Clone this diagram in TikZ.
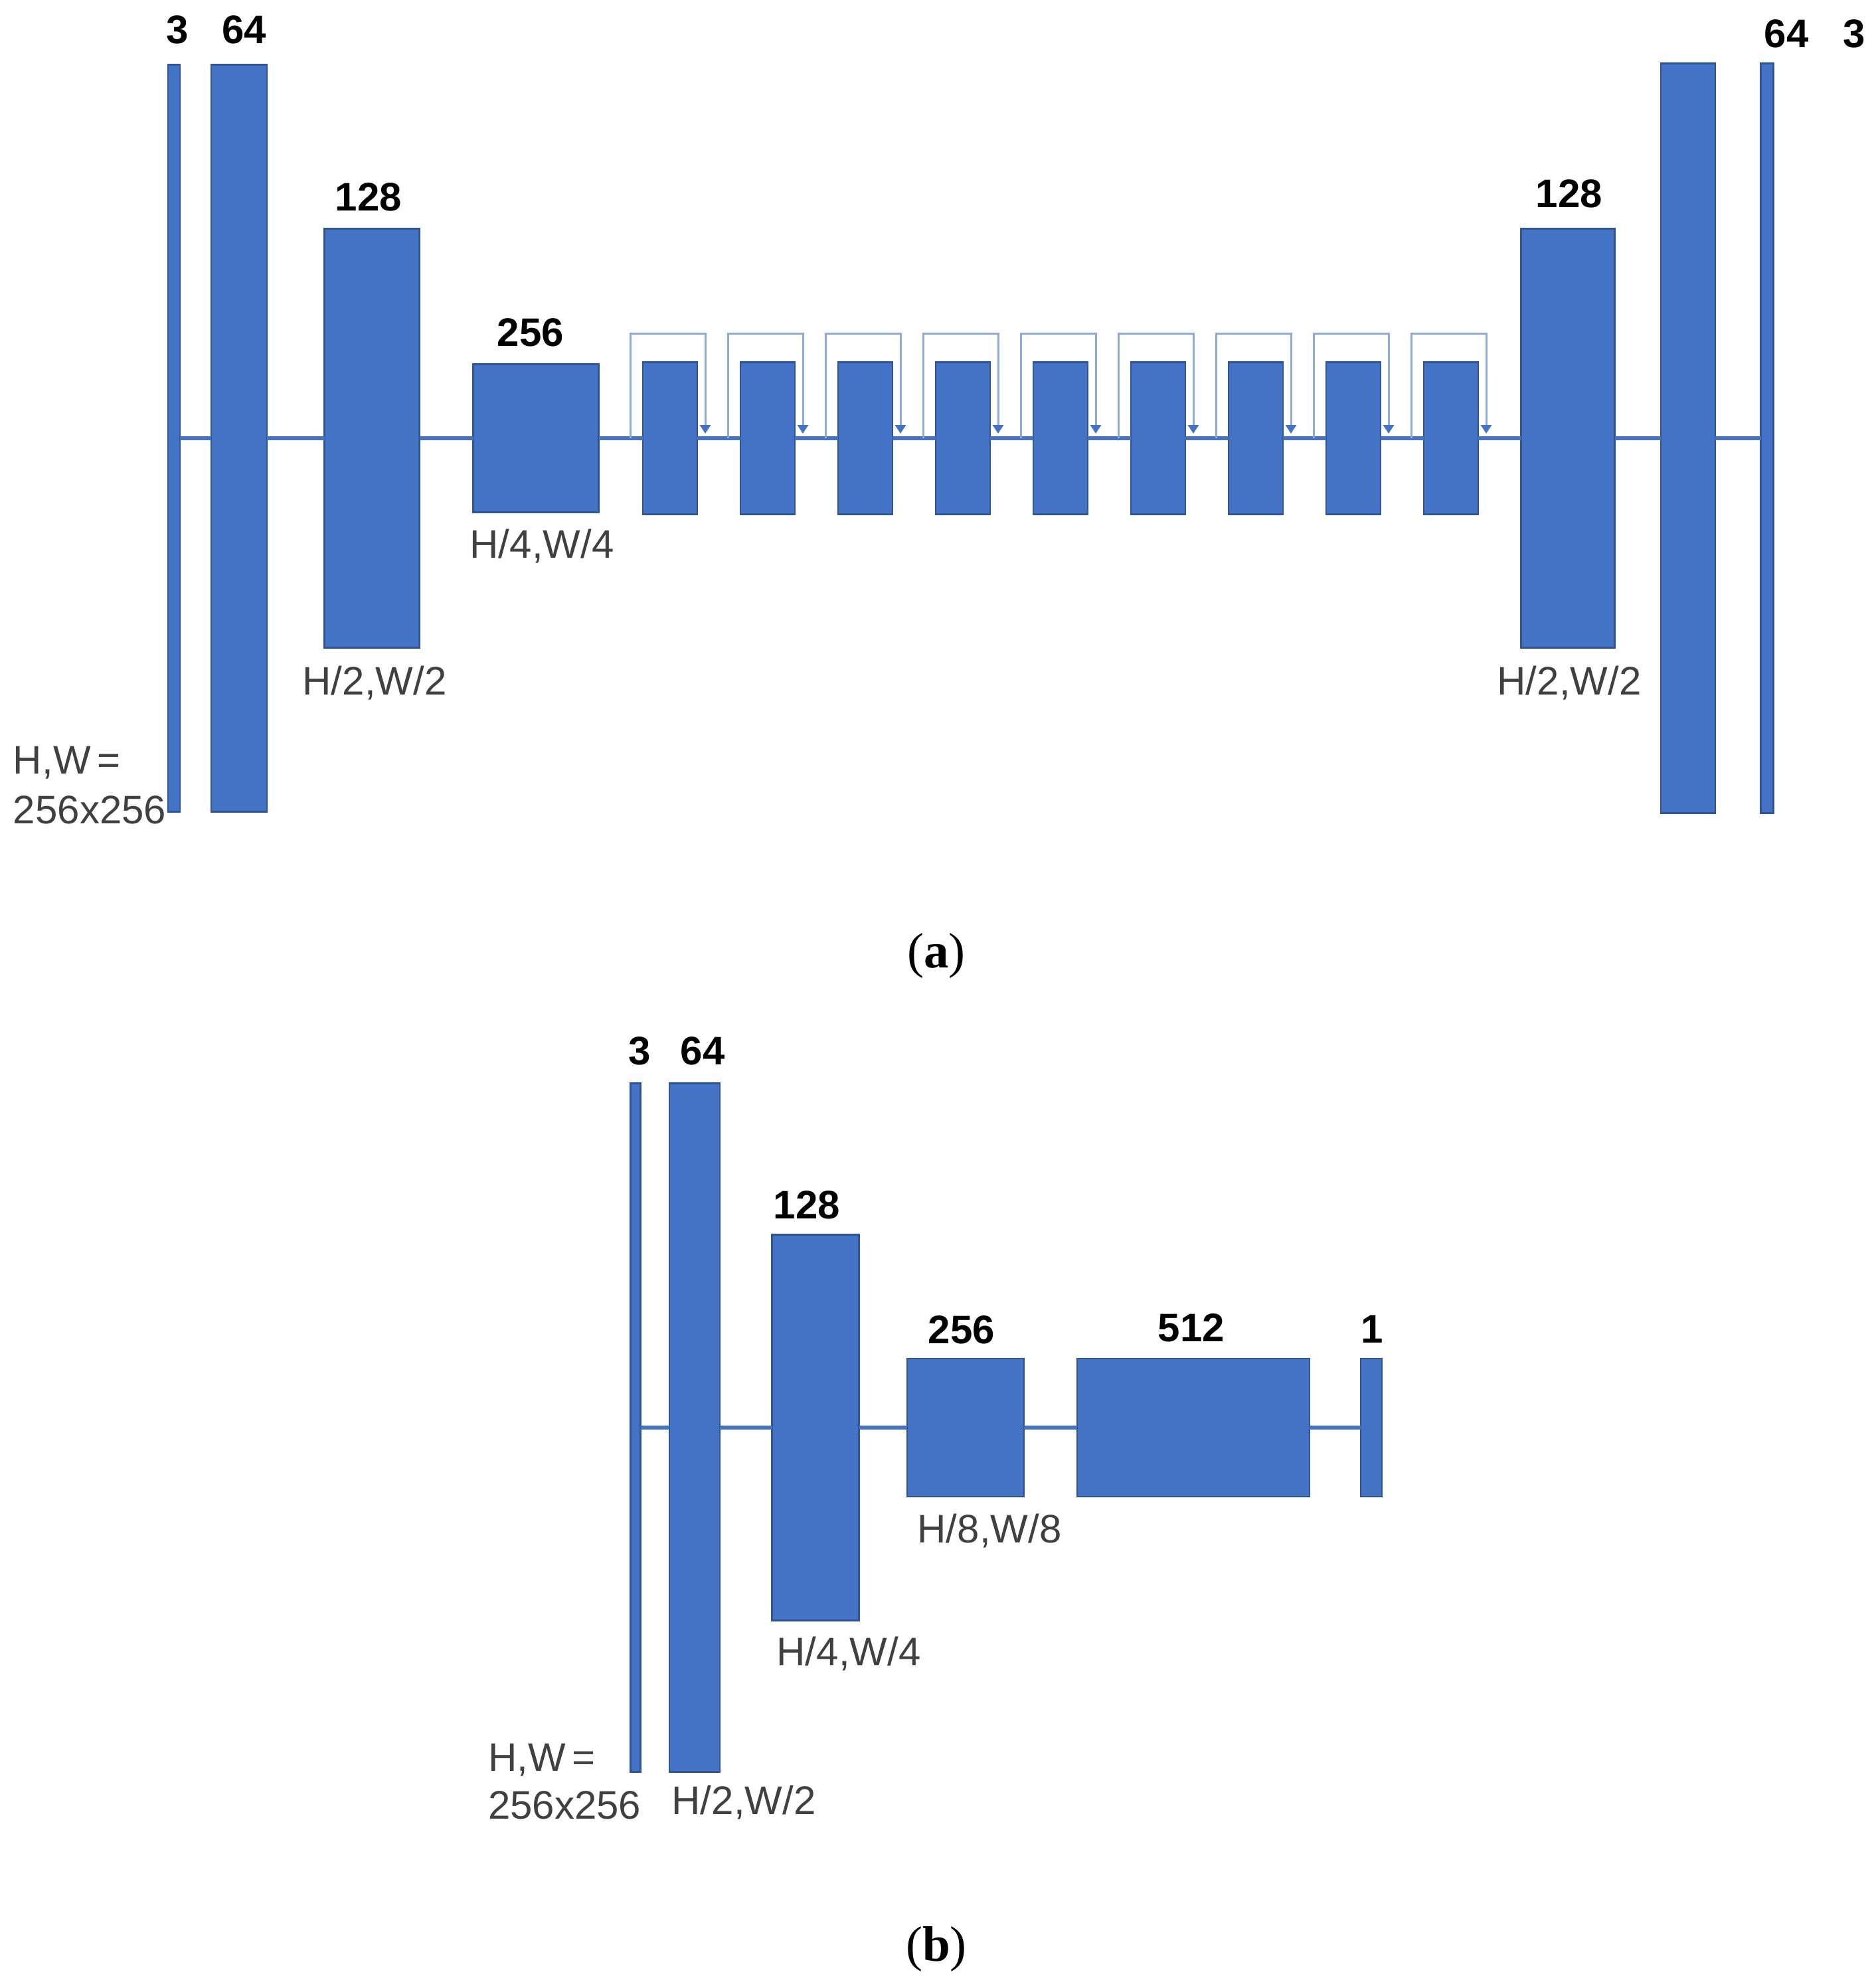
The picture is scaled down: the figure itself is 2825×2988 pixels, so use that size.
\documentclass[tikz,border=0pt]{standalone}
\usepackage{fontspec}
\setmainfont{Liberation Sans}
\newfontfamily\capfont{Liberation Serif}
\usetikzlibrary{arrows.meta,calc}
\definecolor{barblue}{HTML}{4472C4}
\definecolor{barline}{HTML}{2F5597}
\definecolor{skipblue}{HTML}{8FAADC}
\definecolor{dimgray}{HTML}{404040}
\begin{document}
\begin{tikzpicture}[x=0.2pt,y=-0.2pt,
  bar/.style 2 args={draw=barline, fill=barblue, line width=0.5pt, inner sep=0pt, outer sep=0pt,
    minimum width=#1*0.2pt, minimum height=#2*0.2pt},
  mainline/.style={draw=barblue, line width=1.1pt},
  skipline/.style={draw=skipblue, line width=0.6pt, -{Triangle[length=2.6pt,width=3.2pt,fill=barblue,color=barblue]}},
  num/.style={font=\fontsize{12}{14}\selectfont\bfseries, text=black, inner sep=0pt},
  dim/.style={font=\fontsize{12}{14}\selectfont, text=dimgray, inner sep=0pt},
  captext/.style={font=\fontsize{15}{18}\selectfont\capfont, inner sep=0pt}]
\useasboundingbox (0,0) rectangle (2825,2988);
% ---------------- (a) ----------------
\node[bar={18}{1125}] (A3L) at (262,660) {};
\node[bar={84}{1125}] (A64L) at (360,660) {};
\node[bar={143}{631}] (A128L) at (560,660) {};
\node[bar={189}{223}] (A256) at (807,660) {};
\foreach \i in {1,...,9}{
  \node[bar={82}{229}] (S\i) at ({1009+147*(\i-1)},660) {};
}
\node[bar={141}{631}] (A128R) at (2361,660) {};
\node[bar={82}{1129}] (A64R) at (2542,660) {};
\node[bar={19}{1129}] (A3R) at (2661,660) {};
\draw[mainline] (A3L.east) -- (A64L.west);
\draw[mainline] (A64L.east) -- (A128L.west);
\draw[mainline] (A128L.east) -- (A256.west);
\draw[mainline] (A256.east) -- (S1.west);
\foreach \i [evaluate=\i as \j using int(\i+1)] in {1,...,8}{
  \draw[mainline] (S\i.east) -- (S\j.west);
}
\draw[mainline] (S9.east) -- (A128R.west);
\draw[mainline] (A128R.east) -- (A64R.west);
\draw[mainline] (A64R.east) -- (A3R.west);
\foreach \i in {1,...,9}{
  \draw[skipline] ($(S\i.west)+(-19,0)$) -- ++(0,-158) -| ($(S\i.east)+(12,-7)$);
}
\node[num] (la3) at (267,45) {3};
\node[num] (la64) at (368,45) {64};
\node[num] (la128) at (555,297) {128};
\node[num] (la256) at (799,501) {256};
\node[dim] (laq) at (816,823) {H/4,W/4};
\node[dim] (lah) at (564,1029) {H/2,W/2};
\node[dim,anchor=west] (lahw) at (19,1149) {H,W\,=};
\node[dim,anchor=west] (lasz) at (19,1220) {256x256};
\node[num] (la128r) at (2363,292) {128};
\node[dim] (lahr) at (2363,1029) {H/2,W/2};
\node[num] (la64r) at (2690,51) {64};
\node[num] (la3r) at (2792,51) {3};
\node[captext] (capa) at (1410,1439) {(\textbf{a})};
% ---------------- (b) ----------------
\node[bar={15}{1037}] (B3) at (957,2150) {};
\node[bar={76}{1037}] (B64) at (1046,2150) {};
\node[bar={131}{581}] (B128) at (1228,2150) {};
\node[bar={176}{208}] (B256) at (1454,2150) {};
\node[bar={350}{208}] (B512) at (1797,2150) {};
\node[bar={32}{208}] (B1) at (2065,2150) {};
\draw[mainline] (B3.east) -- (B64.west);
\draw[mainline] (B64.east) -- (B128.west);
\draw[mainline] (B128.east) -- (B256.west);
\draw[mainline] (B256.east) -- (B512.west);
\draw[mainline] (B512.east) -- (B1.west);
\node[num] (lb3) at (963,1583) {3};
\node[num] (lb64) at (1058,1583) {64};
\node[num] (lb128) at (1215,1815) {128};
\node[num] (lb256) at (1448,2003) {256};
\node[num] (lb512) at (1794,2000) {512};
\node[num] (lb1) at (2066,2002) {1};
\node[dim] (lbe) at (1490,2306) {H/8,W/8};
\node[dim] (lbq) at (1278,2491) {H/4,W/4};
\node[dim] (lbh) at (1120,2715) {H/2,W/2};
\node[dim,anchor=west] (lbhw) at (734,2651) {H,W\,=};
\node[dim,anchor=west] (lbsz) at (734,2719) {256x256};
\node[captext] (capb) at (1410,2935) {(\textbf{b})};
\end{tikzpicture}
\end{document}
